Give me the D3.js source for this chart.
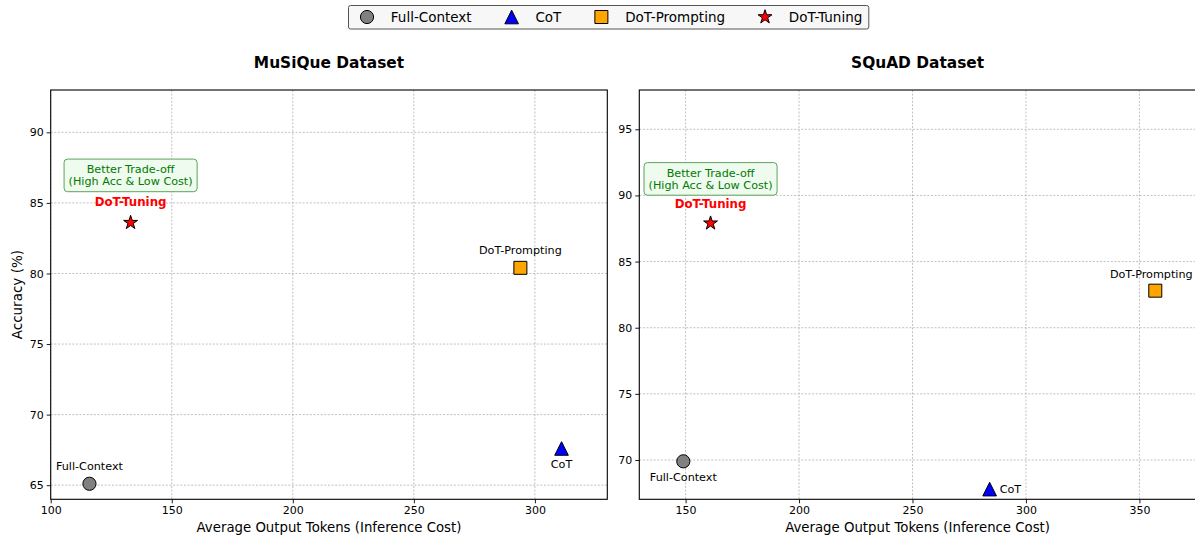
<!DOCTYPE html>
<html>
<head>
<meta charset="utf-8">
<script src="https://cdn.jsdelivr.net/npm/d3@7"></script>
<style>
  html, body { margin: 0; padding: 0; background: #fff; }
  svg { display: block; font-family: "DejaVu Sans", sans-serif; }
</style>
</head>
<body>
<svg id="chart" width="1195" height="537"></svg>
<script>
// ---------------- data ----------------
const categories = ["Full-Context", "CoT", "DoT-Prompting", "DoT-Tuning"];

const musiqueTokens = [116, 311, 294, 133];
const musiqueAccuracy = [65.1, 67.6, 80.4, 83.6];
const musiqueXTicks = [100, 150, 200, 250, 300];
const musiqueYTicks = [65, 70, 75, 80, 85, 90];
const musiqueXLimits = [100, 329.9];
const musiqueYLimits = [64.0, 93.0];

const squadTokens = [149, 284, 357, 161];
const squadAccuracy = [69.9, 67.8, 82.8, 87.9];
const squadXTicks = [150, 200, 250, 300, 350];
const squadYTicks = [70, 75, 80, 85, 90, 95];
const squadXLimits = [129.6, 374.9];
const squadYLimits = [67.03, 97.97];

const panelTitles = ["MuSiQue Dataset", "SQuAD Dataset"];
const xAxisTitle = "Average Output Tokens (Inference Cost)";
const yAxisTitle = "Accuracy (%)";
const calloutLines = ["Better Trade-off", "(High Acc & Low Cost)"];

// ---------------- style ----------------
const markerFill = { "Full-Context": "#808080", "CoT": "#0000ff", "DoT-Prompting": "#ffa500", "DoT-Tuning": "#ff0000" };
const markerShape = { "Full-Context": "circle", "CoT": "triangle", "DoT-Prompting": "square", "DoT-Tuning": "star" };

function markerPath(shape) {
  if (shape === "circle") {
    const r = 6.6;
    return `M${r},0A${r},${r} 0 1,1 ${-r},0A${r},${r} 0 1,1 ${r},0Z`;
  }
  if (shape === "triangle") {
    const h = 6.8;
    return `M0,${-h}L${h},${h}L${-h},${h}Z`;
  }
  if (shape === "square") {
    const h = 6.5;
    return `M${-h},${-h}L${h},${-h}L${h},${h}L${-h},${h}Z`;
  }
  const R = 7.3, ri = R * 0.381966;
  const pts = [];
  for (let i = 0; i < 10; i++) {
    const ang = -Math.PI / 2 + i * Math.PI / 5;
    const rr = i % 2 === 0 ? R : ri;
    pts.push([rr * Math.cos(ang), rr * Math.sin(ang)]);
  }
  return "M" + pts.map(p => p[0].toFixed(2) + "," + p[1].toFixed(2)).join("L") + "Z";
}

const svg = d3.select("#chart");

const panels = [
  {
    title: panelTitles[0], tokens: musiqueTokens, acc: musiqueAccuracy,
    xTicks: musiqueXTicks, yTicks: musiqueYTicks, xLim: musiqueXLimits, yLim: musiqueYLimits,
    left: 50.7, right: 607.3, showYTitle: true,
    place: { "Full-Context": "above", "CoT": "below", "DoT-Prompting": "above" }
  },
  {
    title: panelTitles[1], tokens: squadTokens, acc: squadAccuracy,
    xTicks: squadXTicks, yTicks: squadYTicks, xLim: squadXLimits, yLim: squadYLimits,
    left: 639.3, right: 1195.9, showYTitle: false,
    place: { "Full-Context": "below", "CoT": "right", "DoT-Prompting": "above-left" }
  }
];
const plotTop = 90, plotBottom = 499.3;

panels.forEach(p => {
  const x = d3.scaleLinear().domain(p.xLim).range([p.left, p.right]);
  const y = d3.scaleLinear().domain(p.yLim).range([plotBottom, plotTop]);
  const g = svg.append("g");

  const grid = g.append("g");
  grid.selectAll("line.vx").data(p.xTicks).join("line")
    .attr("x1", d => x(d)).attr("x2", d => x(d)).attr("y1", plotTop).attr("y2", plotBottom)
    .attr("stroke", "#b0b0b0").attr("stroke-width", 0.8).attr("stroke-dasharray", "2,1.6");
  grid.selectAll("line.hy").data(p.yTicks).join("line")
    .attr("x1", p.left).attr("x2", p.right).attr("y1", d => y(d)).attr("y2", d => y(d))
    .attr("stroke", "#b0b0b0").attr("stroke-width", 0.8).attr("stroke-dasharray", "2,1.6");

  const xAxis = d3.axisBottom(x).tickValues(p.xTicks).tickSize(4).tickPadding(3).tickFormat(d3.format("d"));
  const yAxis = d3.axisLeft(y).tickValues(p.yTicks).tickSize(4).tickPadding(3).tickFormat(d3.format("d"));
  const gx = g.append("g").attr("transform", `translate(0,${plotBottom})`).call(xAxis);
  const gy = g.append("g").attr("transform", `translate(${p.left},0)`).call(yAxis);
  [gx, gy].forEach(a => {
    a.select(".domain").remove();
    a.selectAll("line").attr("stroke", "#000").attr("stroke-width", 0.9);
    a.selectAll("text").attr("fill", "#000").style("font-size", "11px").style("font-family", "DejaVu Sans");
  });

  g.append("rect").attr("x", p.left).attr("y", plotTop)
    .attr("width", p.right - p.left).attr("height", plotBottom - plotTop)
    .attr("fill", "none").attr("stroke", "#000").attr("stroke-width", 1.1);

  g.append("text").attr("x", (p.left + p.right) / 2).attr("y", 67.8)
    .attr("text-anchor", "middle").style("font-size", "15.4px").style("font-weight", "bold")
    .text(p.title);
  g.append("text").attr("x", (p.left + p.right) / 2).attr("y", 531.5)
    .attr("text-anchor", "middle").style("font-size", "13.3px").text(xAxisTitle);
  if (p.showYTitle) {
    g.append("text").attr("transform", `translate(21.5,${(plotTop + plotBottom) / 2}) rotate(-90)`)
      .attr("text-anchor", "middle").style("font-size", "13.5px").text(yAxisTitle);
  }

  const pts = categories.map((c, i) => ({ c, tx: p.tokens[i], acc: p.acc[i] }));

  const best = pts.find(d => d.c === "DoT-Tuning");
  const bx = x(best.tx), byC = y(best.acc + 3.35);
  const cg = g.append("g");
  const boxRect = cg.append("rect");
  const ct = cg.append("text").attr("text-anchor", "middle").attr("fill", "#007a00")
    .style("font-size", "11.2px");
  calloutLines.forEach((line, i) => {
    ct.append("tspan").attr("x", bx).attr("y", byC + (i === 0 ? -5.9 : 6.0) + 4).text(line);
  });
  const tb = ct.node().getBBox();
  boxRect.attr("x", tb.x - 4.5).attr("y", byC - 16.3).attr("width", tb.width + 9).attr("height", 32.6)
    .attr("rx", 3.5).attr("fill", "#effbef").attr("stroke", "#5aa55a").attr("stroke-width", 1);

  g.append("text").attr("x", bx).attr("y", y(best.acc + 1.5) + 4.2)
    .attr("text-anchor", "middle").attr("fill", "#ff0000")
    .style("font-size", "11.8px").style("font-weight", "bold").text(best.c);

  pts.filter(d => d.c !== "DoT-Tuning").forEach(d => {
    const pos = p.place[d.c];
    const px = x(d.tx), py = y(d.acc);
    const t = g.append("text").style("font-size", "11.2px").attr("fill", "#000").text(d.c);
    if (pos === "above") t.attr("x", px).attr("y", py - 17.5 + 4).attr("text-anchor", "middle");
    else if (pos === "above-left") t.attr("x", px - 4).attr("y", py - 16.5 + 4).attr("text-anchor", "middle");
    else if (pos === "below") t.attr("x", px).attr("y", py + 15.3 + 4).attr("text-anchor", "middle");
    else t.attr("x", px + 10).attr("y", py + 4).attr("text-anchor", "start");
  });

  g.append("g").selectAll("path").data(pts).join("path")
    .attr("transform", d => `translate(${x(d.tx)},${y(d.acc)})`)
    .attr("d", d => markerPath(markerShape[d.c]))
    .attr("fill", d => markerFill[d.c])
    .attr("stroke", "#000").attr("stroke-width", 1);
});

// ---------------- legend ----------------
const lg = svg.append("g");
const legRect = lg.append("rect");
let cursor = 367;
categories.forEach(c => {
  lg.append("path").attr("transform", `translate(${cursor},17)`)
    .attr("d", markerPath(markerShape[c])).attr("fill", markerFill[c])
    .attr("stroke", "#000").attr("stroke-width", 1);
  const t = lg.append("text").attr("x", cursor + 23.8).attr("y", 21.8)
    .style("font-size", "13.5px").attr("fill", "#000").text(c);
  const w = t.node().getComputedTextLength();
  cursor = cursor + 23.8 + w + 40;
});
const legEnd = cursor - 40 + 6.5;
legRect.attr("x", 348.5).attr("y", 5.5).attr("width", legEnd - 348.5).attr("height", 23.5)
  .attr("rx", 2).attr("fill", "#f7f7f7").attr("stroke", "#555").attr("stroke-width", 1);
</script>
</body>
</html>
